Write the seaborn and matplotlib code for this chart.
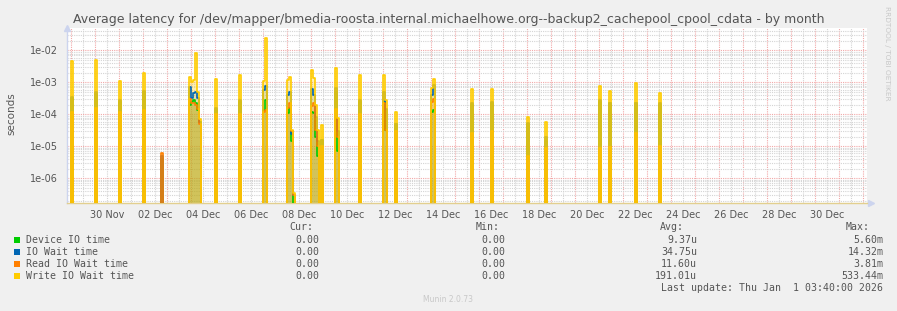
import matplotlib
matplotlib.use("Agg")
import matplotlib.pyplot as plt
import matplotlib.dates as mdates
import matplotlib.ticker as mticker
from matplotlib.patches import Rectangle
import numpy as np
import pandas as pd
import seaborn as sns

# ---------------- data (2-hour averages, seconds) ----------------
series_names = ["Device IO time", "IO Wait time", "Read IO Wait time", "Write IO Wait time"]
series_colors = ["#00CC00", "#0066B3", "#FF8000", "#FFCC00"]

spike_times = [
    "2025-11-29 00:00", "2025-11-30 00:00", "2025-12-01 00:00", "2025-12-02 00:00",
    "2025-12-02 18:00", "2025-12-03 22:00", "2025-12-04 00:00", "2025-12-04 02:00",
    "2025-12-04 04:00", "2025-12-04 06:00", "2025-12-04 08:00", "2025-12-05 00:00",
    "2025-12-06 00:00", "2025-12-07 00:00", "2025-12-07 02:00", "2025-12-08 00:00",
    "2025-12-08 02:00", "2025-12-08 04:00", "2025-12-08 06:00", "2025-12-09 00:00",
    "2025-12-09 02:00", "2025-12-09 04:00", "2025-12-09 06:00", "2025-12-09 10:00",
    "2025-12-10 00:00", "2025-12-10 02:00", "2025-12-11 00:00", "2025-12-12 00:00",
    "2025-12-12 02:00", "2025-12-12 12:00", "2025-12-14 00:00", "2025-12-14 02:00",
    "2025-12-15 16:00", "2025-12-16 12:00", "2025-12-18 00:00", "2025-12-18 18:00",
    "2025-12-21 00:00", "2025-12-21 10:00", "2025-12-22 12:00", "2025-12-23 12:00",
]
device_io = [
    3.2e-4, 4.5e-4, 2.5e-4, 5.0e-4,
    4.0e-6, 2.0e-4, 2.5e-4, 2.8e-4,
    2.2e-4, 1.4e-4, 6.0e-5, 1.4e-4,
    2.5e-4, 1.4e-4, 2.8e-4, 1.1e-4,
    1.6e-4, 1.5e-5, 0.0, 1.2e-4,
    1.1e-4, 2.0e-5, 5.0e-6, 1.6e-5,
    5.0e-4, 7.0e-6, 2.5e-4, 2.5e-4,
    3.3e-5, 5.0e-5, 1.2e-4, 1.4e-4,
    2.0e-4, 2.3e-4, 5.0e-5, 1.5e-5,
    2.5e-4, 2.2e-4, 2.3e-4, 2.0e-4,
]
io_wait = [
    3.6e-4, 5.2e-4, 2.8e-4, 5.5e-4,
    5.0e-6, 7.4e-4, 3.2e-4, 4.8e-4,
    5.2e-4, 3.2e-4, 6.0e-5, 1.6e-4,
    2.8e-4, 5.8e-4, 7.7e-4, 4.0e-4,
    5.2e-4, 2.5e-5, 3.0e-7, 6.1e-4,
    4.0e-4, 8.6e-5, 1.5e-5, 1.6e-5,
    6.6e-4, 3.0e-5, 2.8e-4, 5.2e-4,
    1.5e-4, 5.0e-5, 4.0e-4, 8.3e-4,
    2.2e-4, 2.5e-4, 5.5e-5, 2.0e-5,
    2.8e-4, 2.3e-4, 2.3e-4, 2.3e-4,
]
read_io_wait = [
    1.2e-4, 1.6e-4, 1.2e-4, 1.4e-4,
    6.2e-6, 3.0e-4, 2.2e-4, 2.2e-4,
    2.0e-4, 1.5e-4, 5.0e-5, 1.0e-4,
    1.0e-4, 1.2e-4, 1.4e-4, 1.6e-4,
    2.3e-4, 3.0e-5, 3.0e-7, 1.8e-4,
    2.2e-4, 3.3e-5, 1.0e-5, 1.0e-5,
    1.5e-4, 2.0e-5, 1.0e-4, 2.3e-4,
    3.3e-5, 3.0e-5, 2.5e-4, 3.0e-4,
    2.6e-5, 3.0e-5, 5.0e-6, 9.0e-6,
    9.0e-6, 9.5e-6, 2.7e-5, 1.0e-5,
]
write_io_wait = [
    4.7e-3, 5.0e-3, 1.1e-3, 2.0e-3,
    0.0, 1.5e-3, 1.06e-3, 1.2e-3,
    8.2e-3, 5.0e-4, 7.0e-5, 1.3e-3,
    1.7e-3, 1.1e-3, 2.4e-2, 1.2e-3,
    1.5e-3, 3.3e-5, 3.5e-7, 2.45e-3,
    1.4e-3, 2.0e-4, 3.3e-5, 4.7e-5,
    2.9e-3, 7.6e-5, 1.7e-3, 1.7e-3,
    2.8e-4, 1.2e-4, 6.5e-4, 1.3e-3,
    6.3e-4, 6.3e-4, 8.2e-5, 6.0e-5,
    7.8e-4, 5.4e-4, 9.4e-4, 4.6e-4,
]

legend_cur = ["0.00", "0.00", "0.00", "0.00"]
legend_min = ["0.00", "0.00", "0.00", "0.00"]
legend_avg = ["9.37u", "34.75u", "11.60u", "191.01u"]
legend_max = ["5.60m", "14.32m", "3.81m", "533.44m"]

x_tick_labels = ["30 Nov", "02 Dec", "04 Dec", "06 Dec", "08 Dec", "10 Dec", "12 Dec", "14 Dec",
                 "16 Dec", "18 Dec", "20 Dec", "22 Dec", "24 Dec", "26 Dec", "28 Dec", "30 Dec"]
x_tick_dates = ["2025-11-30", "2025-12-02", "2025-12-04", "2025-12-06", "2025-12-08", "2025-12-10",
                "2025-12-12", "2025-12-14", "2025-12-16", "2025-12-18", "2025-12-20", "2025-12-22",
                "2025-12-24", "2025-12-26", "2025-12-28", "2025-12-30"]

title = ("Average latency for /dev/mapper/bmedia-roosta.internal.michaelhowe.org"
         "--backup2_cachepool_cpool_cdata - by month")
last_update = "Last update: Thu Jan  1 03:40:00 2026"

# ---------------- build series ----------------
t_start = pd.Timestamp("2025-11-28 19:40")
t_end = pd.Timestamp("2026-01-01 03:40")
times = pd.date_range("2025-11-28 20:00", "2026-01-01 02:00", freq="2h")
y_min, y_max = 10 ** -6.78, 10 ** -1.306
floor = y_min * 0.85  # zero values are drawn just below the plot bottom (log axis)

frames = []
for name, vals in zip(series_names, [device_io, io_wait, read_io_wait, write_io_wait]):
    s = pd.Series(0.0, index=times)
    s.loc[pd.to_datetime(spike_times)] = vals
    s = s.clip(lower=floor)
    frames.append(pd.DataFrame({"time": times, "value": s.values, "series": name}))
long = pd.concat(frames, ignore_index=True)

# ---------------- figure ----------------
sns.set_style("white")
plt.rcParams["font.family"] = ["DejaVu Sans"]
W, H = 897, 311
fig = plt.figure(figsize=(W / 100, H / 100), dpi=100, facecolor="#F0F0F0")
ax = fig.add_axes([66.5 / W, (H - 203.3) / H, 800 / W, 175 / H])
ax.set_facecolor("white")

palette = dict(zip(series_names, series_colors))
fill_alpha = dict(zip(series_names, [0.25, 0.15, 0.3, 0.3]))
for name in series_names:
    sub = long[long["series"] == name]
    ax.fill_between(sub["time"], floor, sub["value"], step="post",
                    color=palette[name], alpha=fill_alpha[name], lw=0, zorder=2)
sns.lineplot(data=long, x="time", y="value", hue="series", hue_order=series_names,
             palette=palette, estimator=None, drawstyle="steps-post", linewidth=1.2,
             legend=False, ax=ax, zorder=3)

ax.set_yscale("log")
ax.set_ylim(y_min, y_max)
ax.set_xlim(t_start, t_end)
ax.set_xlabel("")
ax.set_ylabel("")

# y ticks / grid
ax.yaxis.set_major_locator(mticker.LogLocator(base=10, numticks=20))
ax.yaxis.set_minor_locator(mticker.LogLocator(base=10, subs=np.arange(2, 10), numticks=20))
ax.yaxis.set_major_formatter(mticker.FuncFormatter(lambda v, p: f"{v:.0e}"))
ax.yaxis.set_minor_formatter(mticker.NullFormatter())
ax.tick_params(axis="y", which="major", length=0, pad=6, labelsize=7, labelcolor="#555555")
ax.tick_params(axis="y", which="minor", length=0)

# x ticks / grid
ax.xaxis.set_major_locator(mdates.DayLocator())
ax.xaxis.set_major_formatter(mticker.NullFormatter())
ax.xaxis.set_minor_locator(mdates.HourLocator(byhour=[12]))
label_map = {pd.Timestamp(d).date(): l for d, l in zip(x_tick_dates, x_tick_labels)}


def xfmt(v, p):
    d = mdates.num2date(v).date()
    return label_map.get(d, "")


ax.xaxis.set_minor_formatter(mticker.FuncFormatter(xfmt))
ax.tick_params(axis="x", which="major", length=3, color="#F0A0A0", width=1)
ax.tick_params(axis="x", which="minor", length=2, color="#CCCCCC", width=1,
               labelsize=7, labelcolor="#555555", pad=3)

ax.grid(which="major", color="#F2A8A8", linestyle=(0, (1, 1)), linewidth=0.8, zorder=0)
ax.grid(which="minor", color="#D4D4D4", linestyle=(0, (1, 1)), linewidth=0.8, zorder=0)
ax.set_axisbelow(True)

for side in ["top", "right"]:
    ax.spines[side].set_visible(False)
ax.spines["left"].set_color("#CCD4EE")
ax.spines["bottom"].set_color("#E2CF8E")
ax.spines["left"].set_linewidth(1)
ax.spines["bottom"].set_linewidth(1)
# axis arrows
ax.plot([0], [1.0], marker="^", color="#CCD4EE", markersize=4, transform=ax.transAxes, clip_on=False)
ax.plot([1.005], [0], marker=">", color="#CCD4EE", markersize=4, transform=ax.transAxes, clip_on=False)

# ---------------- texts ----------------
def fx(x):
    return x / W


def fy(y):
    return 1 - y / H


fig.text(0.5, fy(19.5), title, ha="center", va="center", fontsize=9.0, color="#555555")
fig.text(fx(11), fy(114), "seconds", rotation=90, ha="center", va="center", fontsize=7.5, color="#555555")
fig.text(fx(886.5), fy(53.5), "RRDTOOL / TOBI OETIKER", rotation=270, ha="center", va="center",
         fontsize=5.3, color="#C8C8C8")

mono = "DejaVu Sans Mono"
fs = 7.1
tc = "#555555"
hdr_y = 227.3
for txt, xr in zip(["Cur:", "Min:", "Avg:", "Max:"], [313.3, 499.3, 683.7, 869.7]):
    fig.text(fx(xr), fy(hdr_y), txt, ha="right", va="center", fontsize=fs, family=mono, color=tc)

row_y = [239.7, 251.7, 263.7, 275.7]
for i, name in enumerate(series_names):
    y = row_y[i]
    fig.patches.append(Rectangle((fx(14), fy(y + 3)), 6 / W, 6 / H, transform=fig.transFigure,
                                 facecolor=series_colors[i], edgecolor="none"))
    fig.text(fx(26), fy(y), name, ha="left", va="center", fontsize=fs, family=mono, color=tc)
    for col, xr in zip([legend_cur, legend_min, legend_avg, legend_max], [319.3, 505.7, 697.0, 883.7]):
        fig.text(fx(xr), fy(y), col[i], ha="right", va="center", fontsize=fs, family=mono, color=tc)

fig.text(fx(883.3), fy(287.7), last_update, ha="right", va="center", fontsize=fs, family=mono, color=tc)
fig.text(fx(448), fy(300), "Munin 2.0.73", ha="center", va="center", fontsize=5.5, color="#C8C8C8")

fig.savefig("out.png", dpi=100, facecolor=fig.get_facecolor())
